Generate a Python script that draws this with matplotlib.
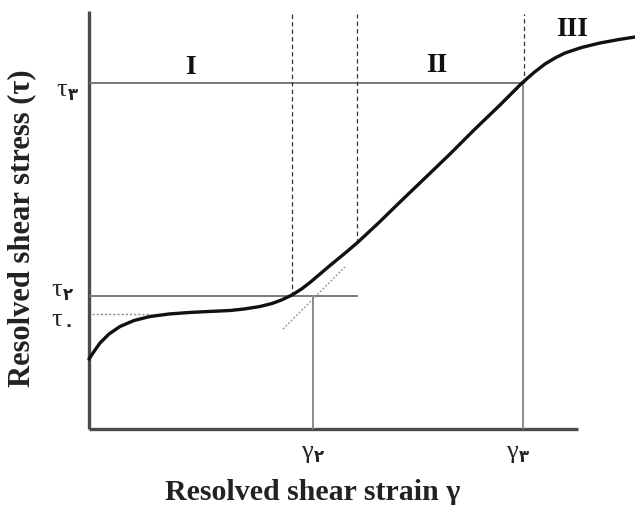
import matplotlib
matplotlib.use("Agg")
import matplotlib.pyplot as plt

# ---- data (strain, stress) in arbitrary units ----
curve_x = [0.0, 0.1, 0.22, 0.4, 0.62, 0.9, 1.22, 1.6, 2.0, 2.4, 2.82, 3.1, 3.42, 3.66, 3.85, 4.06,
           4.25, 4.42, 4.62, 4.82, 5.1, 5.36, 5.8, 6.22, 6.7, 7.22, 7.7, 8.22, 8.46, 8.66,
           8.9, 9.12, 9.32, 9.52, 9.85, 10.22, 10.6, 10.92]
curve_y = [1.40, 1.55, 1.72, 1.90, 2.05, 2.17, 2.25, 2.30, 2.33, 2.35, 2.37, 2.40, 2.45, 2.51, 2.58, 2.68,
           2.80, 2.93, 3.10, 3.27, 3.50, 3.72, 4.13, 4.54, 5.00, 5.50, 5.98, 6.48, 6.72, 6.92,
           7.13, 7.30, 7.42, 7.52, 7.63, 7.72, 7.79, 7.84]

tau0, tau2, tau3 = 2.30, 2.66, 6.92
gamma2, gamma3 = 4.48, 8.68
stage_bounds = [4.06, 5.36, 8.70]
stage_names = ["I", "II", "III"]
stage_label_x = [2.02, 6.96, 9.66]
stage_label_y = [7.26, 7.30, 8.0]
extrap_x = [3.88, 5.12]
extrap_y = [2.00, 3.24]

fig = plt.figure(figsize=(6.35, 5.06), dpi=100)
ax = fig.add_axes([89/635, (506-430)/506, (635-89)/635, 430/506])
ax.set_xlim(0, (635-89)/50)
ax.set_ylim(0, 430/50)
ax.axis("off")

axc = "#4a4a4a"
ax.plot([0, 0], [0, 8.36], color=axc, lw=2.4, solid_capstyle="butt", clip_on=False)
ax.plot([0, 9.78], [0, 0], color=axc, lw=2.4, solid_capstyle="butt", clip_on=False)

gc = "#707070"
ax.plot([0, 8.66], [tau3, tau3], color=gc, lw=1.3)
ax.plot([0, 5.36], [tau2, tau2], color=gc, lw=1.3)
ax.plot([0.06, 1.22], [tau0, tau0], color="#8a8a8a", lw=1.0, ls=(0, (1.5, 1.5)))
ax.plot([gamma2, gamma2], [0, tau2], color="#8a8a8a", lw=1.4)
ax.plot([gamma3, gamma3], [0, tau3], color="#8a8a8a", lw=1.4)
bottoms = [2.66, 3.72, 6.92]
for xb, yb in zip(stage_bounds, bottoms):
    ax.plot([xb, xb], [yb, 8.3], color="#333333", lw=0.9, ls=(0, (3.5, 2.5)))
ax.plot(extrap_x, extrap_y, color="#8a8a8a", lw=0.9, ls=(0, (1.5, 1.5)))

ax.plot(curve_x, curve_y, color="#111111", lw=2.4, solid_capstyle="round",
        solid_joinstyle="round", clip_on=False)

serif = ["Liberation Serif", "DejaVu Serif"]
fb = ["Liberation Serif", "DejaVu Sans"]
for n, lx, ly in zip(stage_names, stage_label_x, stage_label_y):
    ax.text(lx, ly, n, family=serif, weight="bold", fontsize=20, ha="center", va="center", color="#111111")

def sub_label(x_px, y_px, main, digit):
    fig.text(x_px/635, 1 - y_px/506, main, family=serif, fontsize=19, ha="right", va="center", color="#222222")
    fig.text((x_px+1)/635, 1 - (y_px+6)/506, digit, family=fb, fontsize=12, weight="bold",
             ha="left", va="center", color="#222222")

sub_label(67, 90, "τ", "۳")
sub_label(62, 290, "τ", "۲")
sub_label(62, 320, "τ", "۰")
sub_label(313, 452, "γ", "۲")
sub_label(518, 452, "γ", "۳")

fig.text(313/635, 1 - 493/506, "Resolved shear strain γ", family=serif, weight="bold",
         fontsize=21.5, ha="center", va="center", color="#222222")
fig.text(22/635, 1 - 228/506, "Resolved shear stress (τ)", family=serif, weight="bold",
         fontsize=22, ha="center", va="center", rotation=90, color="#222222")

fig.savefig("out.png", dpi=100)
